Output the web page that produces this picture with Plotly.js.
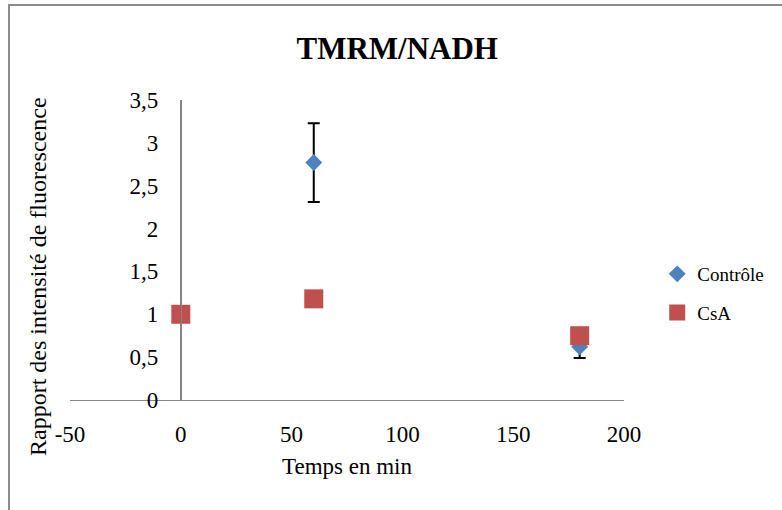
<!DOCTYPE html>
<html>
<head>
<meta charset="utf-8">
<script src="https://cdn.plot.ly/plotly-3.0.1.min.js"></script>
<style>html,body{margin:0;padding:0;background:#fff;}#chart{width:782px;height:510px;}</style>
</head>
<body>
<div id="chart"></div>
<script>
const temps = [0, 60, 180];
const controle = [1, 2.77, 0.62];
const controleErr = [0, 0.46, 0.13];
const csa = [1, 1.18, 0.75];
const xTicks = [-50, 0, 50, 100, 150, 200];
const yTicks = [0, 0.5, 1, 1.5, 2, 2.5, 3, 3.5];

const serif = "'Liberation Serif', 'Times New Roman', serif";

const traces = [
  {
    x: temps, y: controle, type: 'scatter', mode: 'markers', name: 'Contrôle',
    legendgroup: 'a',
    marker: {symbol: 'diamond', size: 13, color: '#4F81BD'},
    error_y: {type: 'data', array: controleErr, visible: true, color: '#000', thickness: 2, width: 6}
  },
  {
    x: temps, y: csa, type: 'scatter', mode: 'markers', name: 'CsA',
    legendgroup: 'b',
    marker: {symbol: 'square', size: 19, color: '#C0504D'}
  }
];

const layout = {
  width: 782, height: 510,
  margin: {l: 70, r: 158, t: 100, b: 110},
  paper_bgcolor: '#fff', plot_bgcolor: '#fff',
  separators: ', ',
  font: {family: serif, size: 23, color: '#000'},
  title: {text: 'TMRM/NADH', font: {family: serif, size: 31, weight: 'bold', color: '#000'},
          x: 0.508, xref: 'container', y: 0.906, yref: 'container', yanchor: 'middle'},
  xaxis: {
    range: [-50, 200], tickvals: xTicks, ticktext: xTicks.map(String),
    showgrid: false, zeroline: true, zerolinecolor: '#868686', zerolinewidth: 1,
    showline: true, linecolor: '#868686', linewidth: 1, ticks: '',
    ticklabelstandoff: 13,
    tickfont: {family: serif, size: 23},
    title: {text: 'Temps en min', font: {family: serif, size: 23}, standoff: 12}
  },
  yaxis: {
    range: [0, 3.5], tickvals: yTicks,
    ticktext: yTicks.map(v => String(v).replace('.', ',')),
    anchor: 'free', position: 0.2,
    showgrid: false, zeroline: false,
    showline: true, linecolor: '#868686', linewidth: 1, ticks: '',
    ticklabelstandoff: 18,
    tickfont: {family: serif, size: 23}
  },
  showlegend: true,
  legend: {
    x: 1.06, xanchor: 'left', y: 0.355, yanchor: 'middle',
    font: {family: serif, size: 19, color: '#000'},
    traceorder: 'grouped', tracegroupgap: 11,
    bgcolor: 'rgba(0,0,0,0)'
  },
  annotations: [
    {text: 'Rapport des intensité de fluorescence', textangle: -90,
     xref: 'paper', yref: 'paper', x: (38 - 70) / 554, y: (400 - 277) / 300,
     xanchor: 'center', yanchor: 'middle', showarrow: false,
     font: {family: serif, size: 24, color: '#000'}}
  ],
  shapes: [
    {type: 'rect', xref: 'paper', yref: 'paper',
     x0: (9 - 70) / 554, x1: (800 - 70) / 554,
     y0: (400 - 540) / 300, y1: (400 - 5) / 300,
     line: {color: '#8c8c8c', width: 2}, fillcolor: 'rgba(0,0,0,0)', layer: 'below'}
  ]
};

Plotly.newPlot('chart', traces, layout, {displayModeBar: false, staticPlot: true});
</script>
</body>
</html>
